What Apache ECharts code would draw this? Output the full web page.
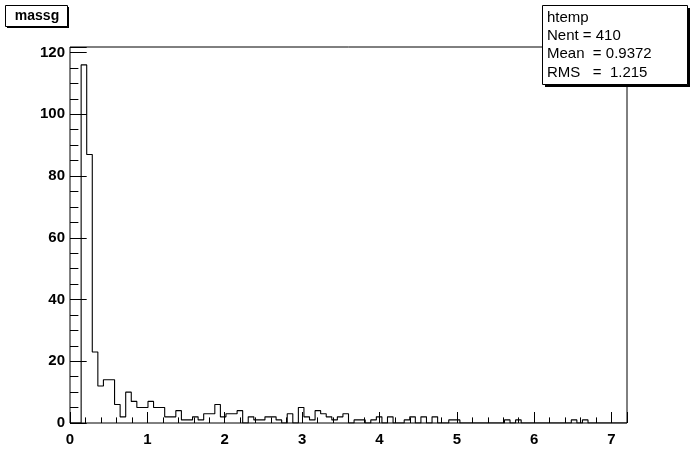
<!DOCTYPE html>
<html><head><meta charset="utf-8">
<script src="https://cdn.jsdelivr.net/npm/echarts@6/dist/echarts.min.js"></script>
<style>html,body{margin:0;padding:0;background:#fff}#c{width:696px;height:472px}</style>
</head><body><div id="c"></div>
<script>
// ---- data ----
const histTitle = 'massg';
const statsLines = ['htemp', 'Nent = 410', 'Mean  = 0.9372', 'RMS   =  1.215'];
const xRange = [0, 7.2];          // axis range (100 bins)
const binCounts = [
  0, 0, 116, 87, 23, 12, 14, 14, 6, 2,
  10, 7, 5, 5, 7, 5, 5, 2, 2, 4,
  1, 1, 2, 1, 3, 3, 6, 2, 3, 3,
  4, 0, 2, 1, 1, 2, 2, 1, 0, 3,
  0, 5, 2, 1, 4, 3, 2, 1, 2, 3,
  0, 1, 1, 0, 1, 2, 0, 2, 0, 0,
  1, 2, 0, 2, 0, 2, 0, 0, 1, 1,
  0, 0, 0, 0, 0, 0, 0, 0, 1, 0,
  1, 0, 0, 0, 0, 0, 0, 0, 0, 0,
  1, 0, 1, 0, 0, 0, 0, 0, 0, 0
];
const yMax = 121.8;
const xTickLabels = ['0', '1', '2', '3', '4', '5', '6', '7'];
const yTickLabels = ['0', '20', '40', '60', '80', '100', '120'];

// ---- build step outline from bins ----
const nBins = binCounts.length;
const bw = (xRange[1] - xRange[0]) / nBins;
const pts = binCounts.map((c, k) => [xRange[0] + k * bw, c]);
pts.push([xRange[1], binCounts[nBins - 1]]);

const FONT = 'Liberation Sans';
const chart = echarts.init(document.getElementById('c'), null, {renderer: 'canvas'});

const G = {left: 70, top: 47, right: 627, bottom: 423};

function axisBase() {
  return {
    type: 'value', gridIndex: 0, axisLine: {show: false}, splitLine: {show: false},
    axisPointer: {show: false}
  };
}
function fmt(list) {
  return v => { const r = Math.round(v); const s = String(r); return (Math.abs(v - r) < 1e-6 && list.includes(s)) ? s : ''; };
}

const option = {
  animation: false,
  backgroundColor: '#fff',
  grid: {left: G.left, top: G.top, width: G.right - G.left, height: G.bottom - G.top,
         show: true, borderColor: '#000', borderWidth: 1, backgroundColor: 'transparent', containLabel: false},
  xAxis: [
    Object.assign(axisBase(), {
      min: xRange[0], max: xRange[1], interval: 1, position: 'bottom',
      axisTick: {show: true, inside: true, length: 11, lineStyle: {color: '#000', width: 1}},
      axisLabel: {show: true, margin: 9, color: '#000', fontFamily: FONT, fontWeight: 'bold', fontSize: 15,
        formatter: fmt(xTickLabels)}
    }),
    Object.assign(axisBase(), {
      min: xRange[0], max: xRange[1], interval: 0.2, position: 'bottom',
      axisTick: {show: true, inside: true, length: 5.6, lineStyle: {color: '#000', width: 1}},
      axisLabel: {show: false}
    })
  ],
  yAxis: [
    Object.assign(axisBase(), {
      min: 0, max: yMax, interval: 20, position: 'left',
      axisTick: {show: true, inside: true, length: 16.7, lineStyle: {color: '#000', width: 1}},
      axisLabel: {show: true, margin: 5, color: '#000', fontFamily: FONT, fontWeight: 'bold', fontSize: 15,
        formatter: fmt(yTickLabels)}
    }),
    Object.assign(axisBase(), {
      min: 0, max: yMax, interval: 5, position: 'left',
      axisTick: {show: true, inside: true, length: 8.4, lineStyle: {color: '#000', width: 1}},
      axisLabel: {show: false}
    })
  ],
  series: [{
    type: 'line', xAxisIndex: 0, yAxisIndex: 0, data: pts, step: 'end',
    showSymbol: false, symbol: 'none', silent: true,
    lineStyle: {color: '#000', width: 1.1}
  }],
  graphic: [
    // title pave
    {type: 'rect', z: 100, shape: {x: 7, y: 7, width: 62, height: 21}, style: {fill: '#000'}},
    {type: 'rect', z: 101, shape: {x: 5.5, y: 5.5, width: 62, height: 21}, style: {fill: '#fff', stroke: '#000', lineWidth: 1}},
    {type: 'text', z: 102, x: 37, y: 16, style: {text: histTitle, fill: '#000', font: 'bold 14px "' + FONT + '"', align: 'center', verticalAlign: 'middle'}},
    // stats pave
    {type: 'rect', z: 100, shape: {x: 545, y: 8, width: 145, height: 79}, style: {fill: '#000'}},
    {type: 'rect', z: 101, shape: {x: 542.5, y: 5.5, width: 145, height: 79}, style: {fill: '#fff', stroke: '#000', lineWidth: 1}},
  ].concat(statsLines.map((t, i) => ({
    type: 'text', z: 102, x: 547, y: 17.5 + i * 18.3,
    style: {text: t, fill: '#000', font: '15px "' + FONT + '"', align: 'left', verticalAlign: 'middle'}
  })))
};
chart.setOption(option);
</script>
</body></html>
